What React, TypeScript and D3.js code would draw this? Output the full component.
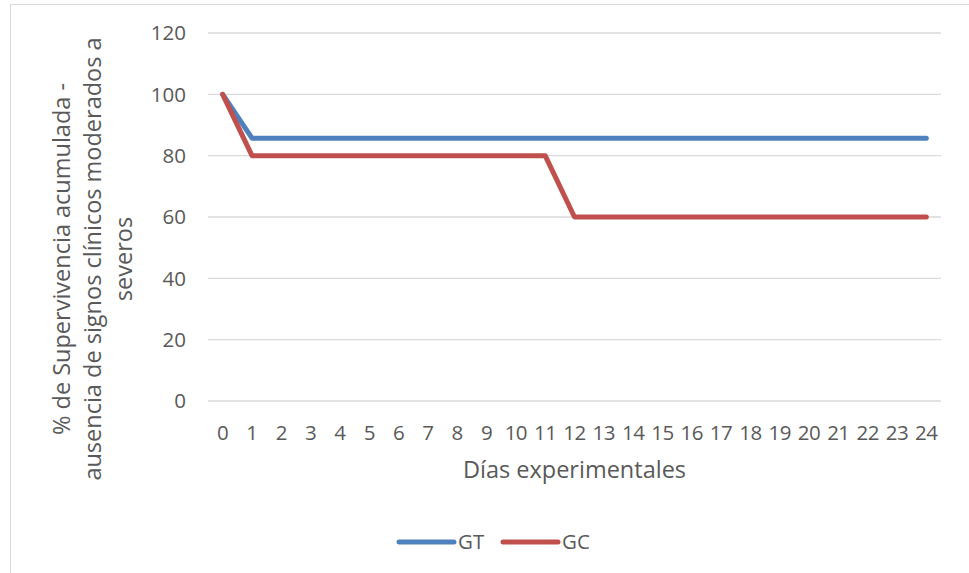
import React from "react";
import * as d3 from "d3";

const days = Array.from({ length: 25 }, (_, i) => String(i));
const gtValues = [100, 85.7, 85.7, 85.7, 85.7, 85.7, 85.7, 85.7, 85.7, 85.7, 85.7, 85.7, 85.7, 85.7, 85.7, 85.7, 85.7, 85.7, 85.7, 85.7, 85.7, 85.7, 85.7, 85.7, 85.7];
const gcValues = [100, 80, 80, 80, 80, 80, 80, 80, 80, 80, 80, 80, 60, 60, 60, 60, 60, 60, 60, 60, 60, 60, 60, 60, 60];
const yTicks = [0, 20, 40, 60, 80, 100, 120];
const seriesNames = ["GT", "GC"];
const yTitleLines = ["% de Supervivencia acumulada -", "ausencia de signos clínicos moderados a", "severos"];
const xTitle = "Días experimentales";

const W = 969, H = 573;
const FONT = "'Open Sans', sans-serif";

export default function App() {
  const left = 208, right = 941, top = 33, bottom = 401;
  const x = d3.scaleBand().domain(days).range([left, right]);
  const y = d3.scaleLinear().domain([0, 120]).range([bottom, top]);
  const cx = (d: string) => (x(d) as number) + x.bandwidth() / 2;
  const line = d3.line<number>().x((_, i) => cx(days[i])).y((v) => y(v));
  const colors = ["#4F81BD", "#C0504D"];
  const series = [gtValues, gcValues];
  const titleMidY = 259;
  const legendItems = [
    { x0: 399, name: seriesNames[0], c: colors[0] },
    { x0: 503, name: seriesNames[1], c: colors[1] },
  ];
  return (
    <svg width={W} height={H} style={{ position: "absolute", left: 0, top: 0 }}>
      <rect x={0} y={0} width={W} height={H} fill="#fff" />
      <rect x={10.5} y={4.5} width={W + 10} height={H + 10} fill="none" stroke="#D9D9D9" strokeWidth={1} />
      {yTicks.map((t) => (
        <g key={t}>
          <line x1={left} x2={right} y1={y(t)} y2={y(t)} stroke="#D9D9D9" strokeWidth={1.3} />
          <text x={186} y={y(t)} dy="0.36em" textAnchor="end" fontFamily={FONT} fontSize={20.5} fill="#595959">{t}</text>
        </g>
      ))}
      {days.map((d) => (
        <text key={d} x={cx(d)} y={440} textAnchor="middle" fontFamily={FONT} fontSize={20.5} letterSpacing={-0.5} fill="#595959">{d}</text>
      ))}
      <text x={(left + right) / 2} y={478} textAnchor="middle" fontFamily={FONT} fontSize={23.5} fill="#595959">{xTitle}</text>
      {yTitleLines.map((t, i) => (
        <text key={i} transform={`translate(${70 + i * 31},${titleMidY}) rotate(-90)`} textAnchor="middle" fontFamily={FONT} fontSize={23.5} fill="#595959">{t}</text>
      ))}
      {series.map((s, i) => (
        <path key={i} d={line(s) || ""} fill="none" stroke={colors[i]} strokeWidth={5} strokeLinejoin="round" strokeLinecap="round" />
      ))}
      {legendItems.map((l) => (
        <g key={l.name}>
          <line x1={l.x0} x2={l.x0 + 55} y1={542} y2={542} stroke={l.c} strokeWidth={5} strokeLinecap="round" />
          <text x={l.x0 + 59} y={542} dy="0.36em" fontFamily={FONT} fontSize={20.5} fill="#595959">{l.name}</text>
        </g>
      ))}
    </svg>
  );
}
